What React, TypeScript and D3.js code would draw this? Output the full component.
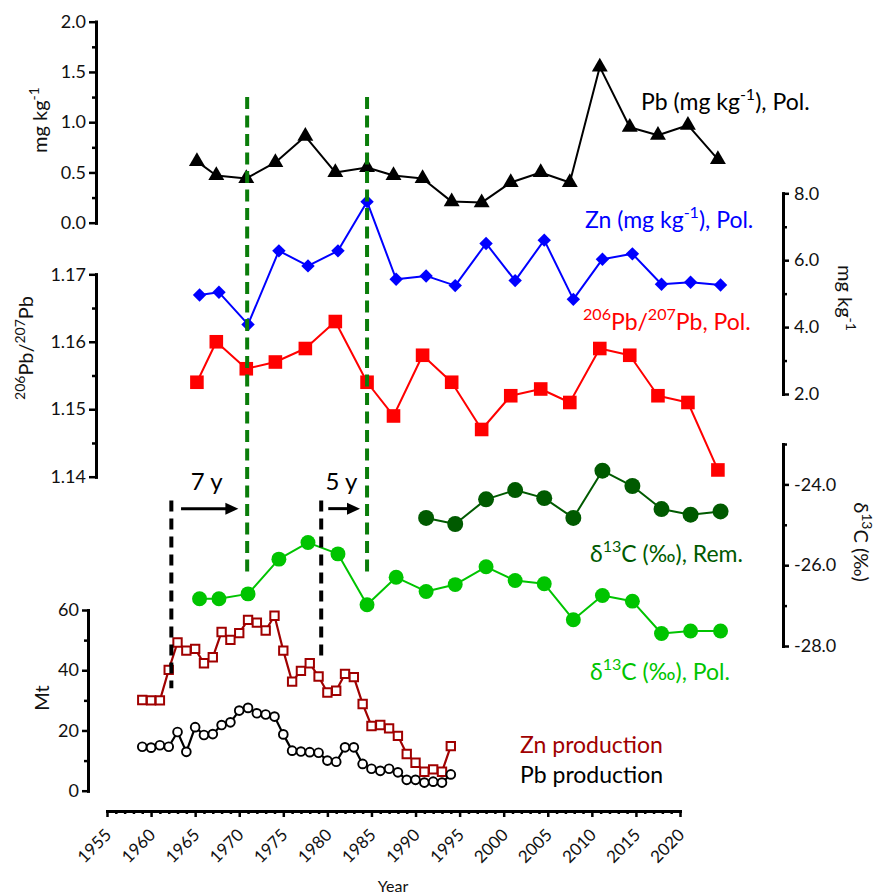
import React, { useEffect, useRef } from 'react';
import * as d3 from 'd3';

// Pb concentration and 206Pb/207Pb ratio, polished core slices
const pbYears = [1965.2, 1967.4, 1970.8, 1974.1, 1977.5, 1980.9, 1984.5, 1987.5, 1990.8, 1994.1, 1997.5, 2000.8, 2004.2, 2007.5, 2010.9, 2014.3, 2017.5, 2020.9, 2024.3];
const pbConc = [0.61, 0.47, 0.44, 0.60, 0.86, 0.50, 0.55, 0.47, 0.44, 0.21, 0.20, 0.40, 0.50, 0.40, 1.55, 0.95, 0.87, 0.97, 0.63];
const pbRatio = [1.154, 1.160, 1.156, 1.157, 1.159, 1.163, 1.154, 1.149, 1.158, 1.154, 1.147, 1.152, 1.153, 1.151, 1.159, 1.158, 1.152, 1.151, 1.141];

// Zn concentration and d13C
const znYears = [1965.5, 1967.7, 1971.0, 1974.5, 1977.8, 1981.2, 1984.5, 1987.8, 1991.2, 1994.5, 1998.0, 2001.3, 2004.6, 2007.9, 2011.2, 2014.6, 2017.9, 2021.2, 2024.6];
const znConc = [4.96, 5.04, 4.08, 6.28, 5.83, 6.28, 7.75, 5.43, 5.53, 5.24, 6.50, 5.39, 6.60, 4.83, 6.03, 6.19, 5.28, 5.34, 5.26];
const d13cPol = [-26.83, -26.83, -26.71, -25.85, -25.44, -25.72, -26.98, -26.30, -26.65, -26.48, -26.04, -26.38, -26.46, -27.35, -26.75, -26.89, -27.69, -27.63, -27.63];
const remYears = [1991.2, 1994.5, 1998.0, 2001.3, 2004.6, 2007.9, 2011.2, 2014.6, 2017.9, 2021.2, 2024.6];
const d13cRem = [-24.83, -24.98, -24.37, -24.14, -24.34, -24.83, -23.66, -24.04, -24.61, -24.75, -24.67];

// mine production (Mt)
const prodYears = [1959, 1960, 1961, 1962, 1963, 1964, 1965, 1966, 1967, 1968, 1969, 1970, 1971, 1972, 1973, 1974, 1975, 1976, 1977, 1978, 1979, 1980, 1981, 1982, 1983, 1984, 1985, 1986, 1987, 1988, 1989, 1990, 1991, 1992, 1993, 1994];
const znProd = [30.1, 30.0, 30.0, 40.1, 49.2, 46.5, 47.1, 42.3, 44.3, 52.7, 50.1, 52.3, 56.7, 55.8, 53.2, 58.1, 46.5, 36.2, 39.8, 42.3, 37.9, 32.6, 33.2, 38.8, 37.7, 28.8, 21.5, 21.8, 20.7, 18.2, 12.2, 9.3, 6.3, 7.1, 6.3, 14.8];
const pbProd = [14.6, 14.3, 15.1, 14.6, 19.5, 12.9, 21.1, 18.5, 18.8, 21.8, 22.7, 26.6, 27.5, 25.7, 25.3, 24.6, 18.7, 13.3, 13.0, 12.8, 12.6, 10.0, 9.6, 14.4, 14.4, 8.9, 7.3, 6.6, 7.3, 6.1, 3.6, 3.6, 2.7, 3.0, 2.7, 5.4];

const xTicks = [1955, 1960, 1965, 1970, 1975, 1980, 1985, 1990, 1995, 2000, 2005, 2010, 2015, 2020];
const lagLines = [1970.9, 1984.5];
const prodLines = [1962.3, 1979.3];

const FONT = "Lato, 'Open Sans', sans-serif";

export default function App() {
  const ref = useRef<SVGSVGElement>(null);

  useEffect(() => {
    const svg = d3.select(ref.current);
    svg.selectAll('*').remove();
    svg.style('font-family', FONT);

    const x = d3.scaleLinear().domain([1955, 2020]).range([107, 680]);
    const yPb = d3.scaleLinear().domain([0, 2]).range([222.7, 21.7]);
    const yZn = d3.scaleLinear().domain([2, 8]).range([394, 193.3]);
    const yRatio = d3.scaleLinear().domain([1.14, 1.17]).range([476.7, 274.3]);
    const yC = d3.scaleLinear().domain([-28, -23]).range([646, 444]);
    const yProd = d3.scaleLinear().domain([0, 60]).range([790.7, 610]);

    const styleAxis = (g: any, fs: number) => {
      g.select('.domain').attr('stroke-width', 3).attr('stroke-linecap', 'square');
      g.selectAll('.tick line').attr('stroke-width', 2.5);
      g.selectAll('.tick text').attr('font-size', fs).attr('font-family', FONT).attr('fill', '#111');
    };

    const addY = (scale: any, left: boolean, xPos: number, major: number[], minor: number[], fmt: (d: number) => string, size: number, pad: number) => {
      const mk = left ? d3.axisLeft : d3.axisRight;
      const gMinor = svg.append('g').attr('transform', `translate(${xPos},0)`)
        .call(mk(scale).tickValues(minor).tickSize(4).tickSizeOuter(0).tickFormat(() => ''));
      styleAxis(gMinor, 18);
      const g = svg.append('g').attr('transform', `translate(${xPos},0)`)
        .call(mk(scale).tickValues(major).tickSize(size).tickSizeOuter(0).tickPadding(pad).tickFormat(fmt as any));
      styleAxis(g, 18);
    };

    addY(yPb, true, 96, [0, 0.5, 1, 1.5, 2], [0.25, 0.75, 1.25, 1.75], d => d.toFixed(1), 7, 3);
    addY(yRatio, true, 96, [1.14, 1.15, 1.16, 1.17], [1.145, 1.155, 1.165], d => d.toFixed(2), 7, 3);
    addY(yProd, true, 88, [0, 20, 40, 60], [10, 30, 50], d => String(d), 6, 3);
    addY(yZn, false, 783, [2, 4, 6, 8], [3, 5, 7], d => d.toFixed(1), 6, 5);
    addY(yC, false, 783, [-28, -26, -24], [-27, -25, -23], d => d.toFixed(1), 6, 5);

    // x axis
    const minorYears = d3.range(1955, 2021).filter(d => d % 5 !== 0);
    const gxm = svg.append('g').attr('transform', 'translate(0,811)')
      .call(d3.axisBottom(x).tickValues(minorYears).tickSize(3).tickSizeOuter(0).tickFormat(() => ''));
    styleAxis(gxm, 17);
    const gx = svg.append('g').attr('transform', 'translate(0,811)')
      .call(d3.axisBottom(x).tickValues(xTicks).tickSize(6).tickSizeOuter(0).tickFormat(d3.format('d') as any));
    styleAxis(gx, 17);
    gx.selectAll('.tick text')
      .attr('text-anchor', 'end')
      .attr('dy', null)
      .attr('y', null)
      .attr('transform', 'translate(5,25) rotate(-45)');

    // axis titles
    const title = (tx: number, ty: number, rot: number, parts: [string, boolean][], fs: number) => {
      const t = svg.append('text').attr('transform', `translate(${tx},${ty}) rotate(${rot})`)
        .attr('text-anchor', 'middle').attr('font-size', fs).attr('fill', '#111');
      parts.forEach(([s, sup], i) => {
        const prevSup = i > 0 && parts[i - 1][1];
        t.append('tspan').text(s)
          .attr('font-size', sup ? fs * 0.7 : fs)
          .attr('dy', sup && !prevSup ? -fs * 0.42 : (!sup && prevSup ? fs * 0.42 : 0));
      });
    };
    title(47, 120, -90, [['mg kg', false], ['-1', true]], 20);
    title(33, 348, -90, [['206', true], ['Pb/', false], ['207', true], ['Pb', false]], 20);
    title(49, 698, -90, [['Mt', false]], 20);
    title(838, 298, 90, [['mg kg', false], ['-1', true]], 20);
    title(854, 542, 90, [['\u03b4', false], ['13', true], ['C (\u2030)', false]], 20);
    svg.append('text').attr('x', 393).attr('y', 892).attr('text-anchor', 'middle')
      .attr('font-size', 16).attr('fill', '#111').text('Year');

    // series
    const drawSeries = (xs: number[], ys: number[], ysc: any, color: string, width: number, sym: any, size: number, fill: string, rot = 0, sw = 0) => {
      const pts = xs.map((d, i) => [x(d), ysc(ys[i])] as [number, number]);
      svg.append('path').attr('d', d3.line()(pts)).attr('fill', 'none')
        .attr('stroke', color).attr('stroke-width', width).attr('stroke-linejoin', 'round');
      svg.append('g').selectAll('path').data(pts).enter().append('path')
        .attr('d', d3.symbol().type(sym).size(size)())
        .attr('transform', d => `translate(${d[0]},${d[1]}) rotate(${rot})`)
        .attr('fill', fill).attr('stroke', sw ? color : 'none').attr('stroke-width', sw);
    };

    drawSeries(prodYears, znProd, yProd, '#a00000', 2.2, d3.symbolSquare, 70, 'white', 0, 2);
    drawSeries(prodYears, pbProd, yProd, '#000', 2.2, d3.symbolCircle, 60, 'white', 0, 1.9);
    drawSeries(znYears, d13cPol, yC, '#00c400', 2, d3.symbolCircle, 175, '#00c400');
    drawSeries(remYears, d13cRem, yC, '#005a00', 2, d3.symbolCircle, 200, '#005a00');
    drawSeries(pbYears, pbRatio, yRatio, '#ff0000', 2, d3.symbolSquare, 185, '#ff0000');
    drawSeries(znYears, znConc, yZn, '#0000ff', 2, d3.symbolSquare, 90, '#0000ff', 45);
    drawSeries(pbYears, pbConc, yPb, '#000', 2, d3.symbolTriangle, 110, '#000');

    // series labels
    const label = (tx: number, ty: number, color: string, parts: [string, boolean][], fs = 23) => {
      const t = svg.append('text').attr('x', tx).attr('y', ty).attr('font-size', fs).attr('fill', color);
      parts.forEach(([s, sup], i) => {
        const prevSup = i > 0 && parts[i - 1][1];
        t.append('tspan').text(s)
          .attr('font-size', sup ? fs * 0.7 : fs)
          .attr('dy', sup && !prevSup ? -fs * 0.42 : (!sup && prevSup ? fs * 0.42 : 0));
      });
    };
    label(641, 110, '#000', [['Pb (mg kg', false], ['-1', true], ['), Pol.', false]]);
    label(585, 228, '#0000ff', [['Zn (mg kg', false], ['-1', true], ['), Pol.', false]]);
    label(583, 330, '#ff0000', [['206', true], ['Pb/', false], ['207', true], ['Pb, Pol.', false]]);
    label(590, 562, '#005a00', [['\u03b4', false], ['13', true], ['C (\u2030), Rem.', false]]);
    label(590, 680, '#00c400', [['\u03b4', false], ['13', true], ['C (\u2030), Pol.', false]]);
    label(520, 753, '#a00000', [['Zn production', false]]);
    label(520, 783, '#000', [['Pb production', false]]);

    // lag markers
    lagLines.forEach(yr => {
      svg.append('line').attr('x1', x(yr)).attr('x2', x(yr)).attr('y1', yPb(1.25)).attr('y2', yC(-26.3))
        .attr('stroke', '#0a7d0a').attr('stroke-width', 4).attr('stroke-dasharray', '12 6.5');
    });
    const prodEnds = [34, 43.5];
    prodLines.forEach((yr, i) => {
      svg.append('line').attr('x1', x(yr)).attr('x2', x(yr)).attr('y1', yC(-24.4)).attr('y2', yProd(prodEnds[i]))
        .attr('stroke', '#000').attr('stroke-width', 4).attr('stroke-dasharray', '11 7');
    });
    const arrows = [[1963.4, 1969.9, '7 y', 1964.5], [1980.1, 1983.7, '5 y', 1979.8]] as [number, number, string, number][];
    arrows.forEach(([a, b, txt, tx]) => {
      const ya = yC(-24.6);
      svg.append('line').attr('x1', x(a)).attr('x2', x(b) - 10).attr('y1', ya).attr('y2', ya)
        .attr('stroke', '#000').attr('stroke-width', 3);
      svg.append('path').attr('d', `M${x(b)},${ya}L${x(b) - 13},${ya - 6}L${x(b) - 13},${ya + 6}Z`).attr('fill', '#000');
      svg.append('text').attr('x', x(tx)).attr('y', yC(-24.15)).attr('font-size', 24).attr('fill', '#000').text(txt);
    });
  }, []);

  return (
    <div style={{ position: 'absolute', left: 0, top: 0 }}>
      <svg ref={ref} width={877} height={896} />
    </div>
  );
}
